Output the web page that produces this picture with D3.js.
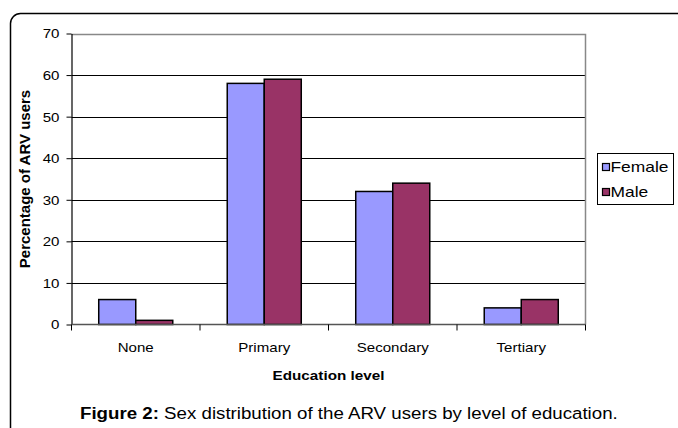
<!DOCTYPE html>
<html>
<head>
<meta charset="utf-8">
<script src="https://cdn.jsdelivr.net/npm/d3@7"></script>
<style>
  html, body { margin: 0; padding: 0; background: #fff; }
  text { font-family: "Liberation Sans", Arial, sans-serif; fill: #000; }
</style>
</head>
<body>
<svg id="chart" width="678" height="428"></svg>
<script>
const categories = ["None", "Primary", "Secondary", "Tertiary"];
const seriesNames = ["Female", "Male"];
const femaleValues = [6, 58, 32, 4];
const maleValues = [1, 59, 34, 6];
const yTicks = [0, 10, 20, 30, 40, 50, 60, 70];
const colors = ["#9999FF", "#993366"];
const yTitle = "Percentage of ARV users";
const xTitle = "Education level";
const captionBold = "Figure 2:";
const captionRest = " Sex distribution of the ARV users by level of education.";

(function () {
const seriesValues = [femaleValues, maleValues];
const SX = 1.16; // horizontal text stretch seen in the reference

const svg = d3.select("#chart");

// outer rounded frame
svg.append("rect")
  .attr("x", 10.5).attr("y", 13.5)
  .attr("width", 720).attr("height", 500)
  .attr("rx", 10).attr("ry", 10)
  .attr("fill", "none").attr("stroke", "#000").attr("stroke-width", 1.5);

const pLeft = 71.5, pRight = 585.5, pTop = 33.5, pBottom = 324.5;

const y = d3.scaleLinear().domain([0, 70]).range([pBottom, pTop]);
const x = d3.scaleBand().domain(categories).range([pLeft, pRight])
  .paddingInner(0.424).paddingOuter(0.212);
const xs = d3.scaleBand().domain(seriesNames).range([0, x.bandwidth()]);

// gridlines
svg.append("g").selectAll("line")
  .data(yTicks.filter(t => t > 0 && t < 70))
  .join("line")
  .attr("x1", pLeft).attr("x2", pRight)
  .attr("y1", d => Math.round(y(d)) + 0.5).attr("y2", d => Math.round(y(d)) + 0.5)
  .attr("stroke", "#000").attr("stroke-width", 1);

// plot area border (top and right, gray)
svg.append("path")
  .attr("d", `M${pLeft},${Math.round(y(70)) + 0.5}H${pRight}V${pBottom}`)
  .attr("fill", "none").attr("stroke", "#888").attr("stroke-width", 1.5);

// bars
const groups = svg.append("g").selectAll("g")
  .data(categories)
  .join("g")
  .attr("transform", d => `translate(${x(d)},0)`);
groups.selectAll("rect")
  .data((c, i) => seriesNames.map((s, j) => ({ s, v: seriesValues[j][i], j })))
  .join("rect")
  .attr("x", d => xs(d.s))
  .attr("y", d => y(d.v))
  .attr("width", xs.bandwidth())
  .attr("height", d => y(0) - y(d.v))
  .attr("fill", d => colors[d.j])
  .attr("stroke", "#000").attr("stroke-width", 1.5);

// y axis
const yAxis = d3.axisLeft(y).tickValues(yTicks).tickSize(5).tickSizeOuter(0);
const gy = svg.append("g").attr("transform", `translate(${pLeft},0)`).call(yAxis);
gy.select(".domain").attr("stroke", "#000").attr("stroke-width", 1.2);
gy.selectAll(".tick line").attr("stroke", "#000");
gy.selectAll(".tick text")
  .attr("x", 0).attr("dy", "0.34em")
  .attr("font-size", 13)
  .attr("font-family", "Liberation Sans, Arial, sans-serif")
  .attr("text-anchor", "end")
  .attr("transform", `translate(-12,0) scale(${SX},1)`);

// x axis with ticks at category boundaries
const gx = svg.append("g").attr("transform", `translate(0,${pBottom})`);
gx.append("line").attr("x1", pLeft).attr("x2", pRight).attr("y1", 0).attr("y2", 0)
  .attr("stroke", "#555").attr("stroke-width", 1.5);
const step = x.step();
const bounds = d3.range(categories.length + 1).map(i => pLeft + i * step);
gx.selectAll("line.tk").data(bounds).join("line").attr("class", "tk")
  .attr("x1", d => d).attr("x2", d => d).attr("y1", 0).attr("y2", 6)
  .attr("stroke", "#000");
gx.selectAll("text").data(categories).join("text")
  .attr("transform", d => `translate(${x(d) + x.bandwidth() / 2},27) scale(${SX},1)`)
  .attr("text-anchor", "middle")
  .attr("font-size", 13)
  .text(d => d);

// axis titles
svg.append("text")
  .attr("transform", `translate(${(pLeft + pRight) / 2},380) scale(1.22,1)`)
  .attr("text-anchor", "middle")
  .attr("font-size", 12.5).attr("font-weight", "bold")
  .text(xTitle);
svg.append("text")
  .attr("transform", `translate(30,${(pTop + pBottom) / 2}) rotate(-90)`)
  .attr("text-anchor", "middle")
  .attr("font-size", 15).attr("font-weight", "bold")
  .text(yTitle);

// legend
const lg = svg.append("g").attr("transform", "translate(597.5,153.5)");
lg.append("rect").attr("width", 76).attr("height", 51)
  .attr("fill", "#fff").attr("stroke", "#000").attr("stroke-width", 1);
const li = lg.selectAll("g").data(seriesNames).join("g")
  .attr("transform", (d, i) => `translate(5,${10 + i * 25})`);
li.append("rect").attr("width", 7).attr("height", 7)
  .attr("fill", (d, i) => colors[i]).attr("stroke", "#000").attr("stroke-width", 1.2);
li.append("text")
  .attr("transform", `translate(8,8.5) scale(${SX},1)`)
  .attr("font-size", 15)
  .text(d => d);

// caption
const cap = svg.append("text")
  .attr("transform", `translate(80,419) scale(1.1,1)`)
  .attr("font-size", 17);
cap.append("tspan").attr("font-weight", "bold").text(captionBold);
cap.append("tspan").text(captionRest);
})();
</script>
</body>
</html>
